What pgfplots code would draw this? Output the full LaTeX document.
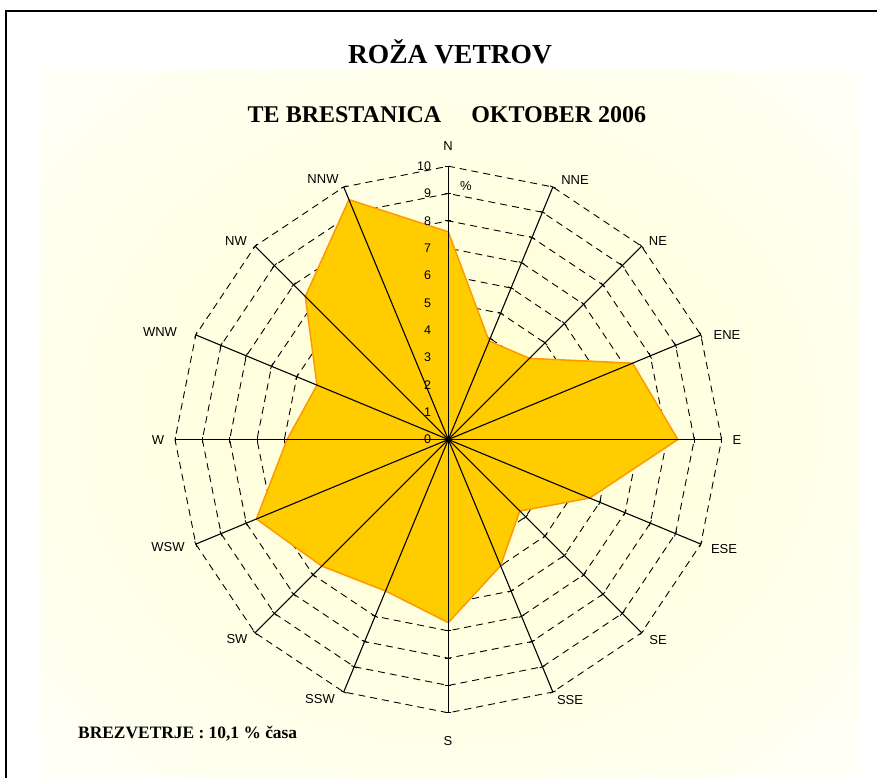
\documentclass[border=0pt]{standalone}
\usepackage{fontspec}
\setmainfont{Liberation Serif}
\newfontfamily\arial{Liberation Sans}
\usepackage{pgfplots}
\pgfplotsset{compat=1.18}
\usepackage{pgfplotstable}
\usepgfplotslibrary{polar}

\definecolor{rosefill}{RGB}{255,204,0}
\definecolor{roseedge}{RGB}{255,153,0}
\definecolor{glowc}{RGB}{255,255,208}
\pgfdeclareradialshading{glow}{\pgfpoint{0bp}{0bp}}{color(0bp)=(glowc); color(42bp)=(white); color(50bp)=(white)}

% wind rose, percent of time per direction (angle: 90 = N, clockwise)
\pgfplotstableread{
dir angle value
N   90    7.6
NNE 67.5  3.9
NE  45    4.2
ENE 22.5  7.3
E   0     8.4
ESE -22.5 5.6
SE  -45   3.7
SSE -67.5 5.0
S   -90   6.7
SSW -112.5 6.0
SW  -135  6.55
WSW -157.5 7.6
W   -180  5.9
WNW -202.5 5.2
NW  -225  7.4
NNW -247.5 9.5
N   -270  7.6
}\rosedata

% grid helpers
\pgfplotstableread{
a one
0 1
22.5 1
45 1
67.5 1
90 1
112.5 1
135 1
157.5 1
180 1
202.5 1
225 1
247.5 1
270 1
292.5 1
315 1
337.5 1
360 1
}\angtab
\pgfplotstableread{
zero r
0 1
0 2
0 3
0 4
0 5
0 6
0 7
0 8
0 9
0 10
}\radtab

\begin{document}
\begin{tikzpicture}
\useasboundingbox (0,0) rectangle (877pt,-778pt);
\fill[white] (0,0) rectangle (877pt,-778pt);
\begin{scope}[x=1pt,y=-1pt]
  \shade[shading=glow] (40,70) rectangle (860,778);
  \draw[line width=1.4pt] (6,778) -- (6,11) -- (877,11);
\end{scope}

\begin{polaraxis}[
  at={(448.3pt,-439.5pt)}, anchor=center,
  scale only axis, width=546.6pt, height=546.6pt,
  xmin=0, xmax=360, ymin=0, ymax=10,
  hide axis, clip=false, clip marker paths=true,
]
% dashed rings
\pgfplotsinvokeforeach{1,...,10}{
  \addplot[black, line width=0.9pt, dash pattern=on 7pt off 5pt] table[x=a, y expr=#1*\thisrow{one}] {\angtab};
}
% small ticks on the spokes
\pgfplotsinvokeforeach{0,22.5,...,337.5}{
  \addplot[only marks, black, mark=|, mark size=3pt, mark options={rotate=#1, line width=0.9pt}] table[x expr=#1+\thisrow{zero}, y=r] {\radtab};
}
% the rose
\addplot[draw=roseedge, line width=1.5pt, fill=rosefill] table[x=angle, y=value] {\rosedata} -- cycle;
% spokes
\pgfplotsinvokeforeach{0,22.5,...,337.5}{
  \addplot[black, line width=1.1pt] coordinates {(#1,0) (#1,10)};
}
\addplot[only marks, black, mark=*, mark size=2.5pt] coordinates {(0,0)};

% radial scale
\pgfplotsinvokeforeach{0,...,10}{
  \node[font=\arial\fontsize{12.5}{14}\selectfont, anchor=east, inner sep=0pt, xshift=-17pt] at (axis cs:90,#1) {#1};
}
\end{polaraxis}

\begin{scope}[x=1pt,y=-1pt, font=\arial\fontsize{13}{15}\selectfont]
  \node at (466,186) {\%};
  \node at (448,146) {N};
  \node at (575,180) {NNE};
  \node at (658,241) {NE};
  \node at (727,335) {ENE};
  \node at (737,440) {E};
  \node at (724,549) {ESE};
  \node at (658,640) {SE};
  \node at (570,700) {SSE};
  \node at (448,741) {S};
  \node at (320,699) {SSW};
  \node at (237,639) {SW};
  \node at (168,547) {WSW};
  \node at (158,440) {W};
  \node at (160,332) {WNW};
  \node at (236,241) {NW};
  \node at (323,179) {NNW};
\end{scope}

\begin{scope}[x=1pt,y=-1pt]
  \node[font=\fontsize{27.5}{30}\selectfont\bfseries] at (450,52) {ROŽA VETROV};
  \node[font=\fontsize{24}{27}\selectfont\bfseries] at (447,115) {TE BRESTANICA\hspace{30pt}OKTOBER 2006};
  \node[font=\fontsize{17.4}{20}\selectfont\bfseries, anchor=west, inner sep=0pt] at (78,734) {BREZVETRJE : 10,1 \% časa};
\end{scope}
\end{tikzpicture}
\end{document}
